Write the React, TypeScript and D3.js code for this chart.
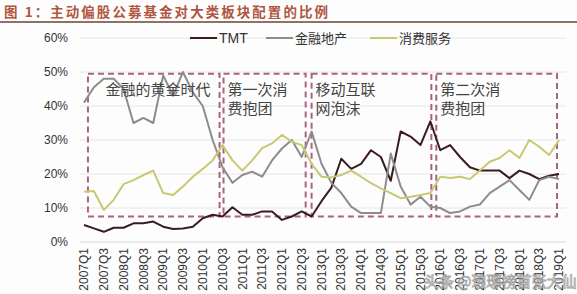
import React from "react";
import * as d3 from "d3";

const quarters = [
  "2007Q1","2007Q2","2007Q3","2007Q4","2008Q1","2008Q2","2008Q3","2008Q4",
  "2009Q1","2009Q2","2009Q3","2009Q4","2010Q1","2010Q2","2010Q3","2010Q4",
  "2011Q1","2011Q2","2011Q3","2011Q4","2012Q1","2012Q2","2012Q3","2012Q4",
  "2013Q1","2013Q2","2013Q3","2013Q4","2014Q1","2014Q2","2014Q3","2014Q4",
  "2015Q1","2015Q2","2015Q3","2015Q4","2016Q1","2016Q2","2016Q3","2016Q4",
  "2017Q1","2017Q2","2017Q3","2017Q4","2018Q1","2018Q2","2018Q3","2018Q4",
  "2019Q1",
];

const tickLabels = [
  "2007Q1","2007Q3","2008Q1","2008Q3","2009Q1","2009Q3","2010Q1","2010Q3",
  "2011Q1","2011Q3","2012Q1","2012Q3","2013Q1","2013Q3","2014Q1","2014Q3",
  "2015Q1","2015Q3","2016Q1","2016Q3","2017Q1","2017Q3","2018Q1","2018Q3",
  "2019Q1",
];

const tmt = [
  5, 4, 3, 4.2, 4.2, 5.5, 5.5, 6, 4.5, 3.8, 4, 4.5, 7, 8, 7.5, 10.2,
  8, 8, 9, 9, 6.5, 7.5, 9, 7.5, 12, 16, 24.5, 21.5, 23, 27, 25, 18,
  32.5, 31, 28.5, 35.5, 27, 28.5, 25, 22, 21, 21, 21, 18.8, 21, 20, 18.5, 19.5,
  20,
];

const finance = [
  41, 45.5, 48, 48, 45, 35, 36.5, 35, 49, 43, 50, 44, 40, 30, 22, 17.4,
  19.7, 20.7, 19.2, 24, 27.5, 30, 25, 32.5, 23, 17.4, 14.4, 10.4, 8.5, 8.5, 8.5, 26,
  16.3, 11, 13.3, 10.4, 10, 8.5, 9, 10.4, 11, 14.4, 16.3, 18.2, 15.3, 12.4, 18.2, 19.2,
  18.5,
];

const consumer = [
  14.8, 15, 9.4, 12.4, 17, 18.2, 19.7, 21, 14.4, 13.8, 16.3, 19.2, 21.5, 24, 28.5, 24,
  21, 24, 27.6, 29, 31.5, 29.5, 28.5, 23, 19.2, 19, 19.7, 21, 19.2, 17.3, 15.8, 14.4,
  12.9, 13.3, 13.8, 14.4, 19.2, 18.8, 19.2, 18.5, 21, 23.6, 24.7, 27, 24.7, 30, 28, 25.6,
  30,
];

const yTicks = [0, 10, 20, 30, 40, 50, 60];

const periodStart = [0.4, 14.1, 23.0, 35.6];
const periodEnd = [13.7, 22.4, 35.1, 47.8];
const periodLine1 = ["金融的黄金时代", "第一次消", "移动互联", "第二次消"];
const periodLine2 = ["", "费抱团", "网泡沫", "费抱团"];
const periodTop = 49.5;
const periodBottom = 7.5;

const seriesNames = ["TMT", "金融地产", "消费服务"];
const seriesData = [tmt, finance, consumer];
const seriesColors = ["#3b1b22", "#8c8c8c", "#c9c873"];

export default function App() {
  const W = 577;
  const H = 294;
  const x = d3.scaleLinear().domain([0, quarters.length - 1]).range([84, 559]);
  const y = d3.scaleLinear().domain([0, 60]).range([242, 38]);
  const line = d3
    .line<number>()
    .x((_, i) => x(i))
    .y((d) => y(d));

  const legendX = [190, 266, 370];
  const font = "Arial, 'Liberation Sans', sans-serif";
  const cjk = "'Noto Sans CJK SC', sans-serif";

  return (
    <svg
      width={W}
      height={H}
      style={{ position: "absolute", left: 0, top: 0, background: "#fff" }}
    >
      <rect x={0} y={0} width={W} height={H} fill="#fdfdfd" />
      {/* title */}
      <text
        x={4}
        y={17}
        fontFamily={cjk}
        fontSize={13.5}
        fontWeight="bold"
        fill="#b0553f"
        textLength={324}
        lengthAdjust="spacing"
      >
        图 1：主动偏股公募基金对大类板块配置的比例
      </text>
      <line x1={0} x2={W} y1={22} y2={22} stroke="#8d7266" strokeWidth={2} />

      {/* grid */}
      {yTicks.map((t) => (
        <g key={t}>
          <line
            x1={80}
            x2={566}
            y1={y(t)}
            y2={y(t)}
            stroke={t === 0 ? "#d8d8d8" : "#e6e6e6"}
            strokeWidth={1}
          />
          <text
            x={68}
            y={y(t)}
            dy="0.35em"
            textAnchor="end"
            fontFamily={font}
            fontSize={12}
            fill="#333"
          >
            {t}%
          </text>
        </g>
      ))}

      {/* x tick labels */}
      {tickLabels.map((lab) => {
        const idx = quarters.indexOf(lab);
        const px = x(idx);
        return (
          <text
            key={lab}
            transform={`translate(${px},248) rotate(-90)`}
            dy="0.35em"
            textAnchor="end"
            fontFamily={font}
            fontSize={12}
            fill="#333"
          >
            {lab}
          </text>
        );
      })}

      {/* period boxes */}
      {periodStart.map((s, k) => (
        <rect
          key={k}
          x={x(s)}
          y={y(periodTop)}
          width={x(periodEnd[k]) - x(s)}
          height={y(periodBottom) - y(periodTop)}
          fill="none"
          stroke="#a9647c"
          strokeWidth={2}
          strokeDasharray="6,4"
        />
      ))}

      {/* series */}
      {seriesData.map((d, k) => (
        <path
          key={k}
          d={line(d) || ""}
          fill="none"
          stroke={seriesColors[k]}
          strokeWidth={2}
          strokeLinejoin="round"
        />
      ))}

      {/* period labels */}
      {periodStart.map((s, k) => (
        <g key={"l" + k} fontFamily={cjk} fontSize={15} fill="#444">
          {k === 0 ? (
            <text x={158} y={90} dy="0.35em" textAnchor="middle">
              {periodLine1[k]}
            </text>
          ) : (
            <>
              <text x={x(s) + 4} y={90} dy="0.35em">
                {periodLine1[k]}
              </text>
              <text x={x(s) + 4} y={109} dy="0.35em">
                {periodLine2[k]}
              </text>
            </>
          )}
        </g>
      ))}

      {/* legend */}
      {seriesNames.map((n, k) => (
        <g key={n}>
          <line
            x1={legendX[k]}
            x2={legendX[k] + 27}
            y1={38}
            y2={38}
            stroke={seriesColors[k]}
            strokeWidth={2}
          />
          <text
            x={legendX[k] + 29}
            y={38}
            dy="0.35em"
            fontFamily={k === 0 ? font : cjk}
            fontSize={k === 0 ? 14 : 13}
            fill="#333"
          >
            {n}
          </text>
        </g>
      ))}

      {/* watermark */}
      <text
        x={424}
        y={282}
        dy="0.35em"
        fontFamily={cjk}
        fontSize={15}
        fill="#ffffff"
        stroke="#9a9a9a"
        strokeWidth={0.8}
        opacity={0.9}
      >
        头条 @琅琊榜首张大仙
      </text>
    </svg>
  );
}
